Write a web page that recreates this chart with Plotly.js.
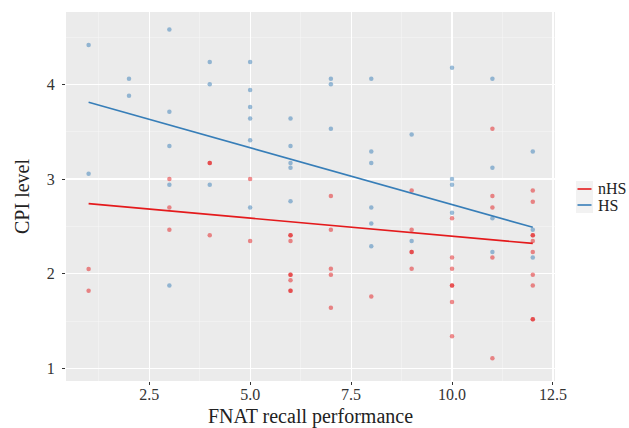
<!DOCTYPE html>
<html>
<head>
<meta charset="utf-8">
<script src="https://cdn.plot.ly/plotly-3.0.1.min.js"></script>
<style>html,body{margin:0;padding:0;background:#fff;}#chart{width:629px;height:428px;}</style>
</head>
<body>
<div id="chart"></div>
<script>
// nHS points
const nhsX = [1,1, 3,3,3, 4,4,4, 5,5, 6,6,6,6,6,6,6,6, 7,7,7,7,7, 8, 9,9,9,9,9, 10,10,10,10,10,10,10, 11,11,11,11,11, 12,12,12,12,12,12,12,12,12,12];
const nhsY = [2.05,1.82, 3.0,2.70,2.465, 3.17,3.17,2.405, 3.0,2.345, 2.405,2.405,2.345,1.99,1.99,1.93,1.82,1.82, 2.82,2.465,2.053,1.99,1.64, 1.76, 2.88,2.465,2.23,2.23,2.053, 2.585,2.17,2.053,1.875,1.875,1.70,1.34, 3.53,2.82,2.70,2.17,1.107, 2.88,2.76,2.405,2.405,2.345,2.23,1.99,1.875,1.52,1.52];
// HS points
const hsX = [1,1, 2,2, 3,3,3,3,3, 4,4,4, 5,5,5,5,5,5, 6,6,6,6,6, 7,7,7, 8,8,8,8,8,8, 9,9, 10,10,10,10, 11,11,11,11, 12,12,12];
const hsY = [4.415,3.056, 4.06,3.88, 4.58,3.71,3.35,2.94,1.875, 4.235,4.0,2.94, 4.235,3.94,3.76,3.64,3.41,2.70, 3.64,3.35,3.17,3.12,2.765, 4.06,4.0,3.53, 4.06,3.29,3.17,2.70,2.53,2.29, 3.47,2.345, 4.175,3.0,2.94,2.645, 4.06,3.12,2.585,2.23, 3.29,2.465,2.17];
// fitted lines
const fitX = [1, 12];
const nhsFit = [2.74, 2.32];
const hsFit = [3.81, 2.49];
const xTicks = [2.5, 5.0, 7.5, 10.0, 12.5];
const xTickLabels = ['2.5', '5.0', '7.5', '10.0', '12.5'];
const yTicks = [1, 2, 3, 4];
const groups = ['nHS', 'HS'];

const RED = '#E41A1C', BLUE = '#377EB8';
const groupColors = [RED, BLUE];
const font = '"Liberation Serif", "Times New Roman", serif';

const traces = [
  {x: nhsX, y: nhsY, type: 'scatter', mode: 'markers', showlegend: false, hoverinfo: 'skip',
   marker: {color: RED, size: 4.5, opacity: 0.5, line: {width: 0}}},
  {x: hsX, y: hsY, type: 'scatter', mode: 'markers', showlegend: false, hoverinfo: 'skip',
   marker: {color: BLUE, size: 4.5, opacity: 0.5, line: {width: 0}}},
  {x: fitX, y: nhsFit, type: 'scatter', mode: 'lines', name: groups[0], showlegend: false, line: {color: RED, width: 1.6}},
  {x: fitX, y: hsFit, type: 'scatter', mode: 'lines', name: groups[1], showlegend: false, line: {color: BLUE, width: 1.6}}
];

// manual legend (ggplot style) in paper coordinates
const W = 489, H = 369, L = 66, T = 12;
const px = v => (v - L) / W;
const py = v => (T + H - v) / H;
const shapes = [], annotations = [];
groups.forEach((g, i) => {
  const cy = 189 + i * 16;
  shapes.push({type: 'rect', xref: 'paper', yref: 'paper', x0: px(576), x1: px(593), y0: py(cy - 8), y1: py(cy + 8),
               fillcolor: '#F2F2F2', line: {width: 0}, layer: 'below'});
  shapes.push({type: 'line', xref: 'paper', yref: 'paper', x0: px(577.5), x1: px(591.5), y0: py(cy), y1: py(cy),
               line: {color: groupColors[i], width: 1.6}});
  annotations.push({text: g, xref: 'paper', yref: 'paper', x: px(596), y: py(cy), xanchor: 'left', yanchor: 'middle',
                    showarrow: false, font: {family: font, size: 16, color: '#222'}});
});

const layout = {
  width: 629, height: 428,
  margin: {l: L, r: 629 - L - W, t: T, b: 428 - T - H},
  paper_bgcolor: '#fff', plot_bgcolor: '#EBEBEB',
  font: {family: font, color: '#333'},
  showlegend: false,
  xaxis: {
    range: [0.44, 12.55], tickvals: xTicks, ticktext: xTickLabels,
    showgrid: true, gridcolor: '#fff', gridwidth: 1.1, zeroline: false, showline: false,
    ticks: 'outside', ticklen: 3, tickwidth: 1, tickcolor: '#333',
    tickfont: {family: font, size: 16, color: '#333'},
    ticklabelstandoff: -4,
    minor: {dtick: 1.25, tick0: 1.25, showgrid: true, gridcolor: '#F7F7F7', gridwidth: 0.5, ticks: ''},
    title: {text: 'FNAT recall performance', font: {family: font, size: 20, color: '#222'}, standoff: 13}
  },
  yaxis: {
    range: [0.867, 4.764], tickvals: yTicks,
    showgrid: true, gridcolor: '#fff', gridwidth: 1.1, zeroline: false, showline: false,
    ticks: 'outside', ticklen: 3, tickwidth: 1, tickcolor: '#333',
    tickfont: {family: font, size: 16, color: '#333'},
    ticklabelstandoff: 4,
    minor: {dtick: 0.5, tick0: 0.5, showgrid: true, gridcolor: '#F7F7F7', gridwidth: 0.5, ticks: ''},
    title: {text: 'CPI level', font: {family: font, size: 20, color: '#222'}, standoff: 11}
  },
  shapes: shapes,
  annotations: annotations
};

Plotly.newPlot('chart', traces, layout, {displayModeBar: false, staticPlot: true});
</script>
</body>
</html>
